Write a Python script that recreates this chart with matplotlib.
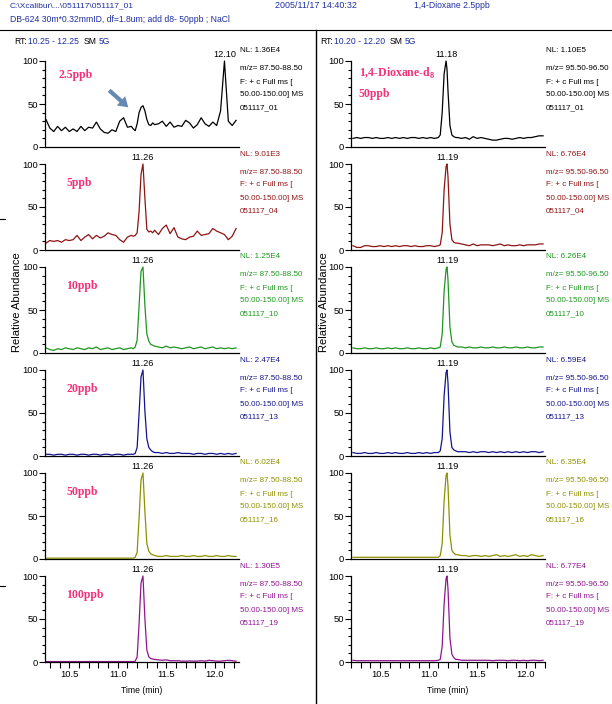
import numpy as np
import matplotlib.pyplot as plt
from matplotlib.lines import Line2D
from matplotlib.ticker import MultipleLocator

W, H = 612, 704

# ---- data (relative abundance, %) ----
left_time = [10.26, 10.30, 10.34, 10.38, 10.42, 10.46, 10.50, 10.54, 10.58, 10.62,
             10.66, 10.70, 10.74, 10.78, 10.82, 10.86, 10.90, 10.94, 10.98, 11.02,
             11.06, 11.10, 11.14, 11.16, 11.18, 11.20, 11.22, 11.24, 11.26, 11.28,
             11.30, 11.32, 11.34, 11.36, 11.38, 11.42, 11.46, 11.50, 11.54, 11.58,
             11.62, 11.66, 11.70, 11.74, 11.78, 11.82, 11.86, 11.90, 11.94, 11.98,
             12.02, 12.06, 12.10, 12.14, 12.18, 12.22]

l_2_5ppb = [32, 22, 18, 24, 19, 23, 18, 21, 18, 24,
            19, 23, 22, 29, 21, 17, 16, 20, 18, 30,
            34, 23, 24, 21, 19, 27, 40, 46, 48, 42,
            32, 26, 25, 28, 26, 27, 30, 24, 29, 23,
            25, 24, 31, 28, 22, 26, 34, 27, 24, 29,
            25, 42, 100, 30, 25, 31]
l_5ppb = [8, 11, 10, 11, 9, 12, 11, 12, 17, 11,
          15, 18, 13, 17, 14, 16, 20, 18, 17, 12,
          9, 15, 17, 16, 17, 20, 45, 88, 100, 60,
          24, 21, 22, 20, 23, 18, 25, 29, 19, 26,
          15, 13, 12, 15, 16, 22, 17, 18, 19, 25,
          22, 20, 18, 12, 16, 25]
l_10ppb = [6, 4, 3, 5, 4, 6, 5, 4, 6, 5,
           4, 6, 5, 7, 4, 5, 6, 4, 5, 6,
           4, 5, 6, 5, 7, 15, 55, 95, 100, 55,
           22, 14, 10, 9, 8, 7, 6, 8, 6, 7,
           6, 5, 6, 7, 5, 6, 7, 5, 6, 7,
           5, 6, 5, 6, 5, 6]
l_20ppb = [2, 2, 1, 2, 2, 1, 2, 2, 1, 2,
           2, 1, 2, 2, 1, 2, 2, 1, 2, 2,
           1, 2, 2, 2, 3, 10, 50, 92, 100, 52,
           20, 10, 7, 5, 4, 4, 3, 4, 3, 3,
           4, 3, 3, 3, 2, 3, 3, 2, 3, 3,
           2, 3, 2, 3, 2, 3]
l_50ppb = [1, 1, 1, 1, 1, 1, 1, 1, 1, 1,
           1, 1, 1, 1, 1, 1, 1, 1, 1, 1,
           1, 1, 1, 1, 2, 8, 48, 92, 100, 55,
           18, 9, 6, 5, 4, 3, 3, 4, 3, 3,
           3, 4, 3, 3, 4, 3, 3, 4, 3, 3,
           4, 3, 3, 4, 3, 3]
l_100ppb = [0.5, 0.5, 0.5, 0.5, 0.5, 0.5, 0.5, 0.5, 0.5, 0.5,
            0.5, 0.5, 0.5, 0.5, 0.5, 0.5, 0.5, 0.5, 0.5, 0.5,
            0.5, 0.5, 0.5, 0.5, 1, 6, 45, 92, 100, 50,
            14, 6, 4, 3.5, 3, 2.5, 2, 2.5, 1.5, 1.5,
            1.5, 1, 1, 1.2, 1, 1, 1.5, 1, 2, 1.5,
            1, 1, 1.5, 2, 1.5, 1]

right_time = [10.22, 10.26, 10.30, 10.34, 10.38, 10.42, 10.46, 10.50, 10.54, 10.58,
              10.62, 10.66, 10.70, 10.74, 10.78, 10.82, 10.86, 10.90, 10.94, 10.98,
              11.02, 11.06, 11.10, 11.12, 11.14, 11.16, 11.18, 11.19, 11.20, 11.22,
              11.24, 11.26, 11.28, 11.30, 11.34, 11.38, 11.42, 11.46, 11.50, 11.54,
              11.58, 11.62, 11.66, 11.70, 11.74, 11.78, 11.82, 11.86, 11.90, 11.94,
              11.98, 12.02, 12.06, 12.10, 12.14, 12.18]

r_01 = [10, 11, 10, 11, 11, 10, 11, 10, 10, 11,
        10, 11, 10, 11, 10, 11, 11, 10, 11, 10,
        11, 10, 11, 14, 40, 85, 100, 90, 65, 25,
        14, 12, 11, 11, 10, 11, 9, 12, 10, 11,
        10, 9, 8, 8, 9, 10, 10, 9, 10, 11,
        10, 11, 11, 12, 13, 13]
r_04 = [5, 3, 3, 5, 5, 4, 4, 5, 4, 5,
        4, 5, 4, 5, 5, 4, 5, 4, 4, 5,
        5, 4, 5, 6, 20, 70, 97, 100, 85, 30,
        12, 9, 8, 8, 7, 6, 5, 7, 5, 6,
        6, 6, 5, 6, 7, 5, 6, 5, 5, 6,
        5, 6, 6, 6, 7, 7]
r_10 = [6, 5, 5, 6, 5, 5, 6, 5, 5, 6,
        5, 6, 5, 5, 6, 5, 5, 6, 5, 5,
        6, 5, 6, 7, 22, 72, 97, 100, 85, 30,
        13, 9, 8, 7, 7, 6, 7, 6, 6, 7,
        6, 6, 7, 6, 6, 7, 6, 6, 7, 6,
        6, 7, 6, 6, 7, 7]
r_13 = [4, 3, 3, 4, 3, 3, 4, 3, 3, 4,
        3, 4, 3, 3, 4, 3, 3, 4, 3, 4,
        3, 4, 4, 6, 20, 70, 97, 100, 85, 28,
        10, 7, 6, 5, 5, 5, 4, 5, 4, 5,
        5, 4, 5, 4, 5, 4, 5, 4, 5, 4,
        5, 4, 5, 5, 4, 5]
r_16 = [2, 2, 2, 2, 2, 2, 2, 2, 2, 2,
        2, 2, 2, 2, 2, 2, 2, 2, 2, 2,
        2, 2, 2, 4, 18, 68, 97, 100, 85, 28,
        10, 7, 5, 5, 4, 4, 3, 4, 4, 3,
        4, 3, 4, 5, 3, 4, 3, 4, 5, 3,
        4, 3, 5, 4, 3, 4]
r_19 = [2, 1.5, 1.5, 1.5, 1.5, 1.5, 1.5, 1.5, 1.5, 1.5,
        1.5, 1.5, 1.5, 1.5, 1.5, 1.5, 1.5, 1.5, 1.5, 1.5,
        1.5, 1.5, 2, 3, 18, 68, 97, 100, 85, 28,
        9, 5, 3, 3, 2, 2, 2, 2, 2, 2,
        2, 2, 1.5, 2, 2, 2, 1.5, 2, 2, 1.5,
        2, 1.5, 2, 2, 1.5, 2]

left_traces = [l_2_5ppb, l_5ppb, l_10ppb, l_20ppb, l_50ppb, l_100ppb]
right_traces = [r_01, r_04, r_10, r_13, r_16, r_19]
left_rt = ["12.10", "11.26", "11.26", "11.26", "11.26", "11.26"]
right_rt = ["11.18", "11.19", "11.19", "11.19", "11.19", "11.19"]
left_nl = ["1.36E4", "9.01E3", "1.25E4", "2.47E4", "6.02E4", "1.30E5"]
right_nl = ["1.10E5", "6.76E4", "6.26E4", "6.59E4", "6.35E4", "6.77E4"]
file_ids = ["051117_01", "051117_04", "051117_10", "051117_13", "051117_16", "051117_19"]
conc_labels = ["2.5ppb", "5ppb", "10ppb", "20ppb", "50ppb", "100ppb"]

colors = ["#000000", "#8e1414", "#1f961f", "#14148c", "#8f8f00", "#8f158f"]
pink = "#f5307a"
blue_txt = "#1f2fa0"

SERIF = ["Liberation Serif", "DejaVu Serif"]
plt.rcParams['font.family'] = ["Liberation Sans", "DejaVu Sans"]
plt.rcParams['mathtext.fontset'] = 'custom'
plt.rcParams['mathtext.bf'] = 'Liberation Serif:bold'
plt.rcParams['mathtext.rm'] = 'Liberation Serif:bold'

FS = 5.8     # info text beside each trace
TICK_FS = 6.8


def fx(px):
    return px / W


def fy(py):
    return 1 - py / H


fig = plt.figure(figsize=(W / 100, H / 100), dpi=100)

# header
fig.text(fx(10), fy(6), "C:\\Xcalibur\\...\\051117\\051117_01", color=blue_txt, fontsize=6.0, va='center')
fig.text(fx(275), fy(6), "2005/11/17 14:40:32", color=blue_txt, fontsize=6.4, va='center')
fig.text(fx(414), fy(6), "1,4-Dioxane 2.5ppb", color=blue_txt, fontsize=6.2, va='center')
fig.text(fx(10), fy(20), "DB-624 30m*0.32mmID, df=1.8um; add d8- 50ppb ; NaCl",
         color=blue_txt, fontsize=6.2, va='center')
fig.add_artist(Line2D([0, 1], [fy(30), fy(30)], color='black', lw=0.8))
fig.add_artist(Line2D([fx(316), fx(316)], [fy(30), 0], color='black', lw=1.0))
# small marks at far left
for yy in (219, 586):
    fig.add_artist(Line2D([0, fx(5)], [fy(yy), fy(yy)], color='black', lw=0.8))

for x0, rng in ((14, "10.25 - 12.25"), (320, "10.20 - 12.20")):
    fig.text(fx(x0), fy(41), "RT:", color='black', fontsize=6.2, va='center')
    fig.text(fx(x0 + 14), fy(41), rng, color=blue_txt, fontsize=6.2, va='center')
    fig.text(fx(x0 + 70), fy(41), "SM", color='black', fontsize=6.2, va='center')
    fig.text(fx(x0 + 85), fy(41), "5G", color=blue_txt, fontsize=6.2, va='center')

tops = [61 + 103 * i for i in range(6)]
ph = 86


def make_panel(left_px, top, xlim, times, vals, color, rt, nl, mz, fid, last):
    ax = fig.add_axes([fx(left_px), fy(top + ph), fx(194), ph / H])
    ax.plot(times, vals, color=color, lw=0.9, clip_on=False)
    ax.set_xlim(*xlim)
    ax.set_ylim(0, 100)
    for s in ('top', 'right'):
        ax.spines[s].set_visible(False)
    ax.spines['left'].set_linewidth(0.9)
    ax.spines['bottom'].set_linewidth(0.9)
    ax.yaxis.set_major_locator(MultipleLocator(50))
    ax.yaxis.set_minor_locator(MultipleLocator(10))
    ax.tick_params(axis='y', which='major', length=4, width=0.8, labelsize=TICK_FS, pad=1)
    ax.tick_params(axis='y', which='minor', length=2.5, width=0.8)
    if last:
        ax.xaxis.set_major_locator(MultipleLocator(0.5))
        ax.xaxis.set_minor_locator(MultipleLocator(0.1))
        ax.tick_params(axis='x', which='both', length=4, width=0.8, labelsize=TICK_FS, pad=2)
        ax.set_xlabel("Time (min)", fontsize=6.2, labelpad=5)
    else:
        ax.tick_params(axis='x', which='both', bottom=False, labelbottom=False)
    ax.annotate(rt, xy=(float(rt), 100), xytext=(0, 1.5), textcoords='offset points',
                ha='center', va='bottom', fontsize=6.6)
    xr = left_px + 195
    fig.text(fx(xr), fy(top - 10), "NL: " + nl, color=color, fontsize=FS, va='center')
    lines = ["m/z= " + mz, "F: + c Full ms [", "50.00-150.00] MS", fid]
    for k, s in enumerate(lines):
        fig.text(fx(xr), fy(top + 8 + 13 * k), s, color=color, fontsize=FS, va='center')
    return ax


left_axes = []
right_axes = []
for i in range(6):
    last = i == 5
    axl = make_panel(45, tops[i], (10.25, 12.25), left_time, left_traces[i], colors[i],
                     left_rt[i], left_nl[i], "87.50-88.50", file_ids[i], last)
    axr = make_panel(351, tops[i], (10.20, 12.20), right_time, right_traces[i], colors[i],
                     right_rt[i], right_nl[i], "95.50-96.50", file_ids[i], last)
    left_axes.append(axl)
    right_axes.append(axr)
    yl = 84 if i == 0 else 78
    xl = 10.39 if i == 0 else 10.47
    axl.text(xl, yl, conc_labels[i], color=pink, fontsize=8.5, fontweight='bold',
             family=SERIF, va='center', ha='left')

# arrow in the 2.5ppb panel
left_axes[0].annotate("", xy=(11.13, 44), xytext=(10.89, 68),
                      arrowprops=dict(arrowstyle='simple,head_width=0.9,head_length=0.7,tail_width=0.3',
                                      color='#6688b4', lw=0))

right_axes[0].text(10.28, 85, "1,4-Dioxane-d$_\\mathbf{8}$", color=pink, fontsize=8.5,
                   fontweight='bold', family=SERIF, va='center', ha='left')
right_axes[0].text(10.28, 62, "50ppb", color=pink, fontsize=8.5,
                   fontweight='bold', family=SERIF, va='center', ha='left')

fig.text(fx(17), fy(302), "Relative Abundance", rotation=90, fontsize=8, va='center', ha='center')
fig.text(fx(324), fy(302), "Relative Abundance", rotation=90, fontsize=8, va='center', ha='center')

plt.savefig("out.png", dpi=100)
